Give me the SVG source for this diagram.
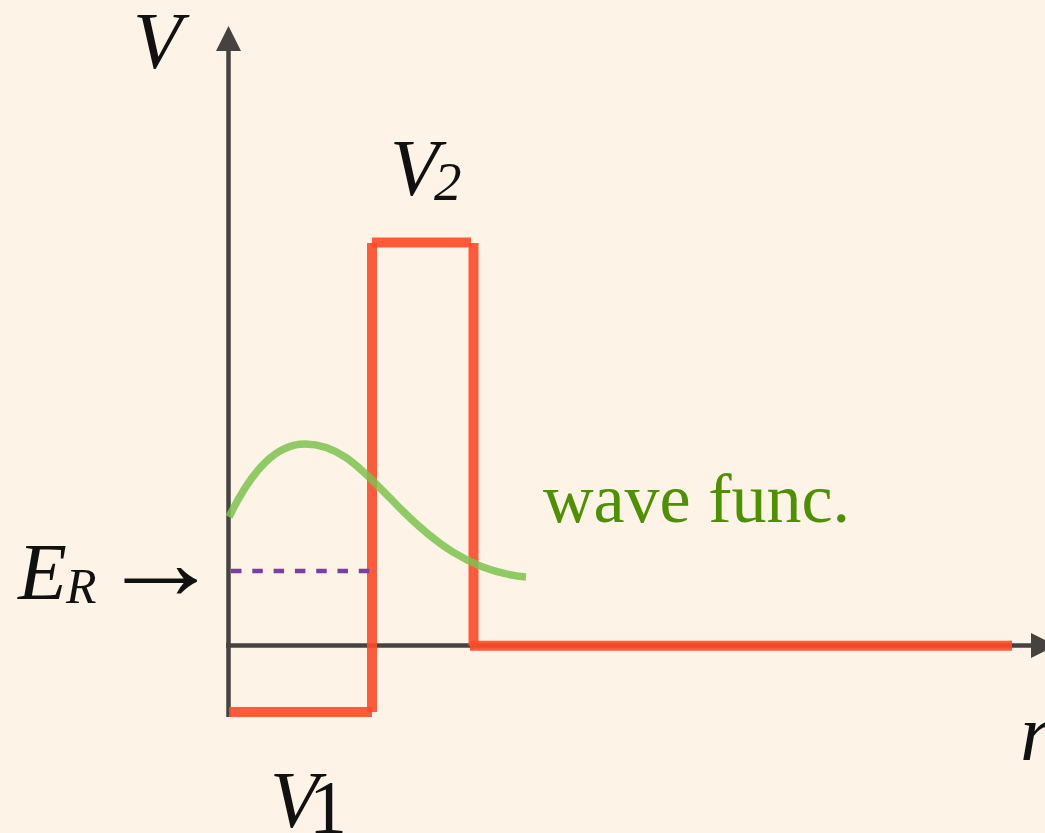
<svg xmlns="http://www.w3.org/2000/svg" width="1045" height="833" viewBox="0 0 1045 833">
<style>
.lbl{font-family:"Liberation Serif","Times New Roman",serif;font-style:italic;fill:#111;}
.up{font-family:"Liberation Serif","Times New Roman",serif;font-style:normal;fill:#111;}
.axis{stroke:#454240;stroke-width:4.5;fill:none;}
.red{stroke:#ff4a28;stroke-opacity:0.9;stroke-width:10;fill:none;}
</style>
<defs>
<marker id="ah" viewBox="0 0 25 25" refX="0" refY="12.5" markerWidth="25" markerHeight="25" markerUnits="userSpaceOnUse" orient="auto">
<path d="M0,0 L25,12.5 L0,25 Z" fill="#454240"/>
</marker>
</defs>
<rect width="1045" height="833" fill="#fdf3e7"/>
<g id="connectors">
<line id="v-axis" class="axis" x1="228.5" y1="717" x2="228.5" y2="51" marker-end="url(#ah)"/>
<line id="r-axis" class="axis" x1="226" y1="645.5" x2="1031" y2="645.5" marker-end="url(#ah)"/>
</g>
<g id="potential">
<line class="red" x1="229" y1="712" x2="372" y2="712"/>
<line class="red" x1="372" y1="712" x2="372" y2="243"/>
<line class="red" x1="372" y1="242.5" x2="471" y2="242.5"/>
<line class="red" x1="473.5" y1="243" x2="473.5" y2="646"/>
<line class="red" x1="470" y1="645.7" x2="1012" y2="645.7"/>
</g>
<g id="energy-level">
<line x1="231" y1="571" x2="370" y2="571" stroke="#7a3fa0" stroke-width="4.5" stroke-dasharray="10.5,10.8"/>
</g>
<g id="wave-function">
<path d="M229,517 C252,470 276,444 305,444 C340,444 362,470 392,500 C430,540 470,572 526,577" fill="none" stroke="#7cc24c" stroke-opacity="0.85" stroke-width="7.5"/>
</g>
<g id="label-V"><text class="lbl" x="133" y="68" font-size="80">V</text></g>
<g id="label-V2"><text class="lbl" x="390" y="195" font-size="80">V</text><text class="lbl" x="434" y="200" font-size="55">2</text></g>
<g id="label-V1"><text class="lbl" x="270" y="827" font-size="80">V</text><text class="up" x="309" y="833" font-size="76">1</text></g>
<g id="label-ER"><text class="lbl" x="18" y="599" font-size="80">E</text><text class="lbl" x="66" y="603" font-size="50">R</text><text class="up" x="0" y="0" font-size="78" transform="translate(99.4,599) scale(1.57,1.4)">→</text></g>
<g id="label-r"><text class="lbl" x="1020" y="760" font-size="80">r</text></g>
<g id="label-wave"><text x="543" y="522" font-family="Liberation Serif, Times New Roman, serif" font-size="70" fill="#4f9000">wave func.</text></g>
</svg>
